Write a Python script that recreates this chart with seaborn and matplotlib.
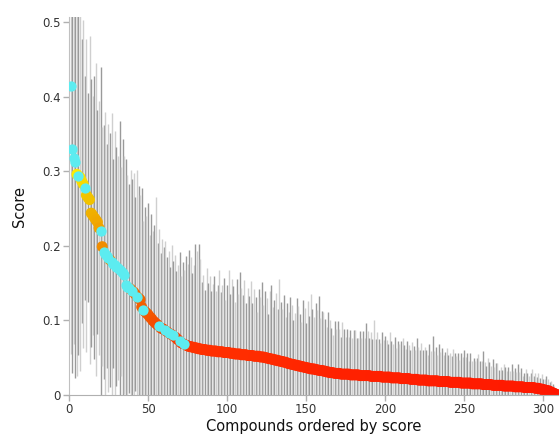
import numpy as np
import pandas as pd
import matplotlib.pyplot as plt
from matplotlib.colors import LinearSegmentedColormap
import seaborn as sns

# scores of the compounds, already sorted
scores = [
    0.415, 0.330, 0.318, 0.313, 0.296, 0.294, 0.292, 0.287, 0.283, 0.278,
    0.268, 0.265, 0.262, 0.244, 0.241, 0.238, 0.235, 0.232, 0.224, 0.220,
    0.199, 0.192, 0.189, 0.186, 0.184, 0.181, 0.178, 0.176, 0.174, 0.172,
    0.170, 0.168, 0.166, 0.164, 0.161, 0.147, 0.145, 0.143, 0.142, 0.140,
    0.138, 0.135, 0.132, 0.130, 0.128, 0.118, 0.114, 0.112, 0.110, 0.108,
    0.105, 0.103, 0.100, 0.098, 0.096, 0.094, 0.092, 0.090, 0.089, 0.088,
    0.087, 0.085, 0.083, 0.082, 0.081, 0.080, 0.078, 0.076, 0.074, 0.072,
    0.070, 0.069, 0.068, 0.067, 0.066, 0.065, 0.065, 0.064, 0.064, 0.063,
    0.063, 0.062, 0.062, 0.061, 0.061, 0.061, 0.060, 0.060, 0.060, 0.059,
    0.059, 0.059, 0.059, 0.058, 0.058, 0.058, 0.058, 0.057, 0.057, 0.057,
    0.057, 0.056, 0.056, 0.056, 0.055, 0.055, 0.055, 0.055, 0.054, 0.054,
    0.054, 0.054, 0.053, 0.053, 0.053, 0.053, 0.052, 0.052, 0.052, 0.052,
    0.051, 0.051, 0.051, 0.050, 0.050, 0.049, 0.049, 0.048, 0.048, 0.047,
    0.047, 0.046, 0.046, 0.045, 0.045, 0.044, 0.044, 0.043, 0.042, 0.042,
    0.041, 0.041, 0.040, 0.040, 0.039, 0.039, 0.038, 0.038, 0.037, 0.037,
    0.036, 0.036, 0.035, 0.035, 0.035, 0.034, 0.034, 0.033, 0.033, 0.033,
    0.032, 0.032, 0.031, 0.031, 0.030, 0.030, 0.030, 0.029, 0.029, 0.029,
    0.029, 0.028, 0.028, 0.028, 0.028, 0.028, 0.028, 0.027, 0.027, 0.027,
    0.027, 0.027, 0.027, 0.026, 0.026, 0.026, 0.026, 0.026, 0.026, 0.026,
    0.025, 0.025, 0.025, 0.025, 0.025, 0.025, 0.025, 0.024, 0.024, 0.024,
    0.024, 0.024, 0.024, 0.023, 0.023, 0.023, 0.023, 0.023, 0.023, 0.022,
    0.022, 0.022, 0.022, 0.022, 0.022, 0.021, 0.021, 0.021, 0.021, 0.021,
    0.020, 0.020, 0.020, 0.020, 0.020, 0.020, 0.019, 0.019, 0.019, 0.019,
    0.019, 0.019, 0.019, 0.018, 0.018, 0.018, 0.018, 0.018, 0.018, 0.018,
    0.017, 0.017, 0.017, 0.017, 0.017, 0.017, 0.017, 0.016, 0.016, 0.016,
    0.016, 0.016, 0.016, 0.016, 0.015, 0.015, 0.015, 0.015, 0.015, 0.015,
    0.015, 0.014, 0.014, 0.014, 0.014, 0.014, 0.014, 0.013, 0.013, 0.013,
    0.013, 0.013, 0.013, 0.013, 0.012, 0.012, 0.012, 0.012, 0.012, 0.012,
    0.012, 0.011, 0.011, 0.011, 0.011, 0.011, 0.011, 0.010, 0.010, 0.010,
    0.010, 0.010, 0.010, 0.010, 0.009, 0.009, 0.009, 0.008, 0.008, 0.007,
    0.007, 0.006, 0.006, 0.005, 0.004, 0.003, 0.002, 0.001, 0.000, 0.000,
]

# half length of the error bar for each compound
errors = [
    0.36, 0.30, 0.25, 0.29, 0.27, 0.24, 0.26, 0.19, 0.22, 0.15,
    0.21, 0.14, 0.22, 0.18, 0.16, 0.19, 0.21, 0.15, 0.17, 0.22,
    0.16, 0.17, 0.19, 0.15, 0.18, 0.17, 0.20, 0.14, 0.18, 0.16,
    0.15, 0.20, 0.14, 0.18, 0.16, 0.17, 0.15, 0.14, 0.16, 0.15,
    0.16, 0.13, 0.17, 0.15, 0.14, 0.16, 0.12, 0.14, 0.13, 0.15,
    0.11, 0.14, 0.12, 0.13, 0.17, 0.11, 0.13, 0.10, 0.12, 0.11,
    0.12, 0.10, 0.11, 0.09, 0.12, 0.10, 0.11, 0.09, 0.10, 0.12,
    0.09, 0.11, 0.10, 0.12, 0.11, 0.13, 0.12, 0.10, 0.11, 0.14,
    0.13, 0.14, 0.12, 0.09, 0.10, 0.08, 0.11, 0.09, 0.10, 0.08,
    0.09, 0.10, 0.08, 0.09, 0.11, 0.08, 0.09, 0.10, 0.07, 0.09,
    0.11, 0.08, 0.10, 0.09, 0.07, 0.10, 0.08, 0.11, 0.09, 0.08,
    0.10, 0.07, 0.09, 0.08, 0.10, 0.07, 0.09, 0.08, 0.06, 0.09,
    0.08, 0.10, 0.07, 0.09, 0.08, 0.06, 0.09, 0.10, 0.07, 0.08,
    0.09, 0.07, 0.11, 0.08, 0.07, 0.09, 0.06, 0.08, 0.07, 0.09,
    0.08, 0.06, 0.07, 0.09, 0.08, 0.07, 0.06, 0.09, 0.08, 0.06,
    0.09, 0.07, 0.10, 0.08, 0.07, 0.09, 0.08, 0.10, 0.07, 0.08,
    0.08, 0.07, 0.06, 0.08, 0.07, 0.06, 0.05, 0.07, 0.06, 0.07,
    0.06, 0.05, 0.07, 0.06, 0.05, 0.06, 0.05, 0.06, 0.05, 0.06,
    0.06, 0.05, 0.05, 0.06, 0.05, 0.06, 0.05, 0.07, 0.06, 0.05,
    0.06, 0.05, 0.075, 0.05, 0.06, 0.05, 0.045, 0.06, 0.05, 0.055,
    0.05, 0.045, 0.06, 0.05, 0.045, 0.055, 0.04, 0.05, 0.045, 0.05,
    0.055, 0.045, 0.04, 0.05, 0.045, 0.04, 0.05, 0.045, 0.04, 0.055,
    0.045, 0.04, 0.05, 0.04, 0.045, 0.04, 0.035, 0.05, 0.04, 0.06,
    0.04, 0.045, 0.035, 0.05, 0.04, 0.045, 0.035, 0.04, 0.045, 0.035,
    0.04, 0.035, 0.045, 0.04, 0.035, 0.04, 0.03, 0.04, 0.035, 0.045,
    0.035, 0.04, 0.03, 0.04, 0.03, 0.035, 0.03, 0.035, 0.04, 0.03,
    0.03, 0.045, 0.03, 0.025, 0.035, 0.03, 0.025, 0.035, 0.025, 0.03,
    0.03, 0.02, 0.025, 0.02, 0.03, 0.025, 0.02, 0.025, 0.02, 0.03,
    0.02, 0.025, 0.02, 0.03, 0.02, 0.025, 0.015, 0.02, 0.025, 0.02,
    0.015, 0.02, 0.025, 0.015, 0.02, 0.015, 0.02, 0.015, 0.02, 0.015,
    0.015, 0.02, 0.015, 0.012, 0.015, 0.012, 0.01, 0.008, 0.006, 0.005,
]

# rank positions of the compounds drawn in cyan
cyan_ranks = [1, 2, 3, 4, 6, 10, 20, 22, 23, 24, 25, 27, 28, 29, 30, 31, 32,
              33, 34, 35, 36, 37, 38, 40, 43, 47, 57, 61, 63, 66, 70, 73]

df = pd.DataFrame({"rank": np.arange(1, len(scores) + 1),
                   "score": scores, "err": errors})
df["cyan"] = df["rank"].isin(cyan_ranks)

sns.set_style("white")
plt.rcParams['font.family'] = ['DejaVu Sans']

fig = plt.figure(figsize=(5.59, 4.37), dpi=100)
ax = fig.add_axes([0.1234, 0.0961, 0.8766, 0.8650])

# error bars, alternating two greys
lo = df["score"] - df["err"]
hi = df["score"] + df["err"]
bar_cols = np.where(df["rank"] % 2 == 0, "#9a9a9a", "#cfcfcf")
ax.vlines(df["rank"], lo, hi, colors=bar_cols, linewidth=1.0, zorder=1)

warm = LinearSegmentedColormap.from_list(
    "warm", [(0.0, "#ff1500"), (0.2, "#ff3000"), (0.35, "#f25800"),
             (0.65, "#f08a00"), (0.82, "#f0b400"), (0.9, "#f2c800"),
             (1.0, "#ffee00")])

sns.scatterplot(data=df[~df["cyan"]], x="rank", y="score", hue="score",
                palette=warm, hue_norm=(0, 0.3), s=62, linewidth=0,
                legend=False, ax=ax, zorder=2)
sns.scatterplot(data=df[df["cyan"]], x="rank", y="score", color="#5cecf0",
                s=55, linewidth=0, ax=ax, zorder=3)

ax.set_xlim(0, 310)
ax.set_ylim(0, 0.507)
ax.set_xticks([0, 50, 100, 150, 200, 250, 300])
ax.set_yticks([0, 0.1, 0.2, 0.3, 0.4, 0.5])
ax.set_yticklabels(["0", "0.1", "0.2", "0.3", "0.4", "0.5"])
ax.tick_params(axis="both", left=True, bottom=True, length=4, width=1,
               color="#b0b0b0", labelsize=8.5, labelcolor="#333333", pad=2)

for side in ["top", "right"]:
    ax.spines[side].set_visible(False)
ax.spines["left"].set_color("#c0c0c0")
ax.spines["bottom"].set_color("#b0b0b0")

ax.set_xlabel("Compounds ordered by score", fontsize=10.5, color="#111111",
              labelpad=2)
ax.set_ylabel("Score", fontsize=10.5, color="#111111", labelpad=11)

fig.savefig("out.png", dpi=100)
